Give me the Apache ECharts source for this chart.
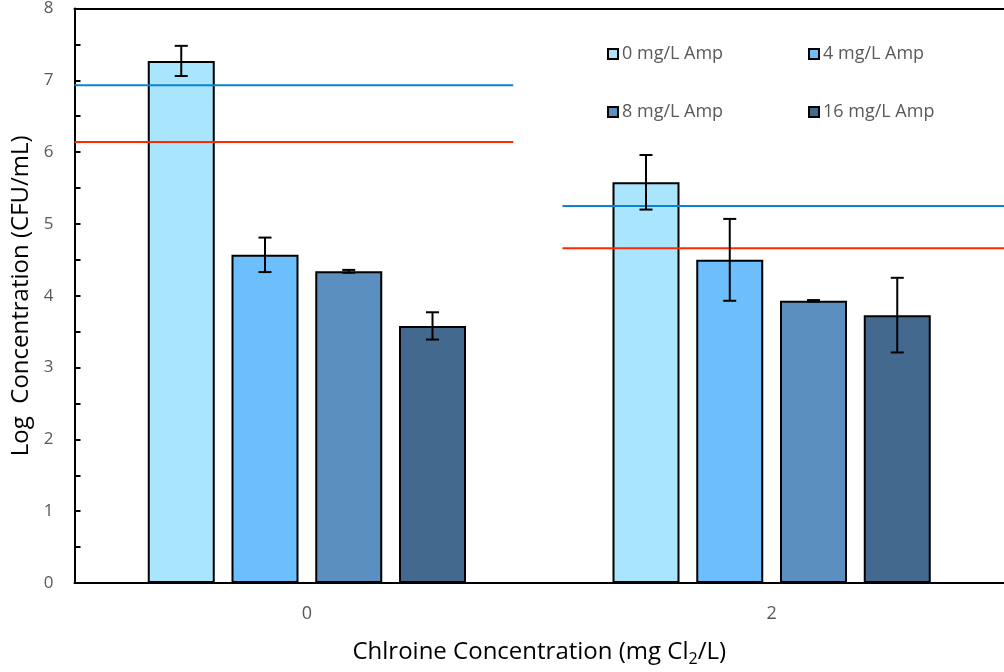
<!DOCTYPE html>
<html>
<head>
<meta charset="utf-8">
<script src="https://cdn.jsdelivr.net/npm/echarts@6/dist/echarts.min.js"></script>
<style>html,body{margin:0;padding:0;background:#fff}#c{width:1004px;height:672px}</style>
</head>
<body>
<div id="c"></div>
<script>
const categories = ['0', '2'];
const seriesNames = ['0 mg/L Amp', '4 mg/L Amp', '8 mg/L Amp', '16 mg/L Amp'];
const amp0 = [7.27, 5.58];
const amp4 = [4.57, 4.50];
const amp8 = [4.34, 3.93];
const amp16 = [3.58, 3.73];
const err0 = [0.21, 0.38];
const err4 = [0.24, 0.57];
const err8 = [0.02, 0.01];
const err16 = [0.19, 0.52];
const blueLines = [[[0, 6.93], [0.944, 6.93]], [[1.050, 5.25], [2, 5.25]]];
const redLines = [[[0, 6.14], [0.944, 6.14]], [[1.050, 4.66], [2, 4.66]]];
const yTicks = [0, 1, 2, 3, 4, 5, 6, 7, 8];

const colors = ['#a9e5fd', '#6dbefd', '#5b8fbf', '#436a8e'];
const values = [amp0, amp4, amp8, amp16];
const errs = [err0, err4, err8, err16];
const BAR_W = 67, GAP = 0.25;

const chart = echarts.init(document.getElementById('c'));
const series = [];
values.forEach((v, i) => {
  series.push({
    name: seriesNames[i], type: 'bar', data: v, xAxisIndex: 0,
    barWidth: BAR_W, barGap: (GAP * 100) + '%',
    itemStyle: { color: colors[i], borderColor: '#000', borderWidth: 2 },
    z: 2
  });
});
values.forEach((v, i) => {
  series.push({
    type: 'custom', xAxisIndex: 0, z: 5,
    data: v.map((val, k) => [k, val, errs[i][k]]),
    renderItem: function (params, api) {
      const k = api.value(0), val = api.value(1), e = api.value(2);
      const off = (i - 1.5) * BAR_W * (1 + GAP);
      const top = api.coord([k, val + e]);
      const bot = api.coord([k, val - e]);
      const x = top[0] + off;
      const cap = 6.5;
      const st = { stroke: '#000', lineWidth: 2 };
      return { type: 'group', children: [
        { type: 'line', shape: { x1: x, y1: top[1], x2: x, y2: bot[1] }, style: st },
        { type: 'line', shape: { x1: x - cap, y1: top[1], x2: x + cap, y2: top[1] }, style: st },
        { type: 'line', shape: { x1: x - cap, y1: bot[1], x2: x + cap, y2: bot[1] }, style: st }
      ]};
    }
  });
});
blueLines.forEach(seg => series.push({ type: 'line', xAxisIndex: 1, data: seg, symbol: 'none', lineStyle: { color: '#0a84d0', width: 2 }, z: 4, silent: true }));
redLines.forEach(seg => series.push({ type: 'line', xAxisIndex: 1, data: seg, symbol: 'none', lineStyle: { color: '#ff2a00', width: 2 }, z: 4, silent: true }));

const legendPos = [[607, 45], [808, 45], [607, 103], [808, 103]];
const legends = seriesNames.map((n, i) => ({
  data: [n], left: legendPos[i][0], top: legendPos[i][1], padding: 0,
  itemWidth: 10, itemHeight: 10, itemGap: 0,
  icon: 'rect',
  itemStyle: { borderColor: '#000', borderWidth: 2 },
  textStyle: { fontFamily: 'Open Sans', fontSize: 18, color: '#595959', padding: [0, 0, 0, -1] },
  selectedMode: false
}));

chart.setOption({
  animation: false,
  grid: { left: 74.5, right: -8.5, top: 8, bottom: 83 },
  legend: legends,
  xAxis: [{
    type: 'category', data: categories, position: 'bottom',
    axisLine: { lineStyle: { color: '#000', width: 2 } },
    axisTick: { show: false },
    axisLabel: { fontFamily: 'Open Sans', fontSize: 18, color: '#595959', margin: 22 },
    name: '{a|Chlroine Concentration (mg Cl}{s|2}{a|/L)}',
    nameLocation: 'middle', nameGap: 54,
    nameTextStyle: { rich: {
      a: { fontFamily: 'Open Sans', fontSize: 24, color: '#000' },
      s: { fontFamily: 'Open Sans', fontSize: 16, color: '#000', padding: [14, 0, 0, 0] }
    } }
  }, {
    type: 'value', min: 0, max: 2, position: 'top',
    axisLine: { show: true, lineStyle: { color: '#000', width: 2 } },
    axisTick: { show: false }, axisLabel: { show: false }, splitLine: { show: false }
  }],
  yAxis: {
    type: 'value', min: 0, max: 8, interval: 0.5,
    axisLine: { show: true, lineStyle: { color: '#000', width: 2 } },
    axisTick: { show: true, inside: true, length: 6, lineStyle: { color: '#000', width: 2 } },
    splitLine: { show: false },
    axisLabel: { fontFamily: 'Open Sans', fontSize: 17, color: '#595959', margin: 21,
      formatter: v => yTicks.indexOf(v) >= 0 ? String(v) : '' },
    name: 'Log  Concentration (CFU/mL)', nameLocation: 'middle', nameGap: 38,
    nameTextStyle: { fontFamily: 'Open Sans', fontSize: 24, color: '#000' }
  },
  series: series
});
</script>
</body>
</html>
